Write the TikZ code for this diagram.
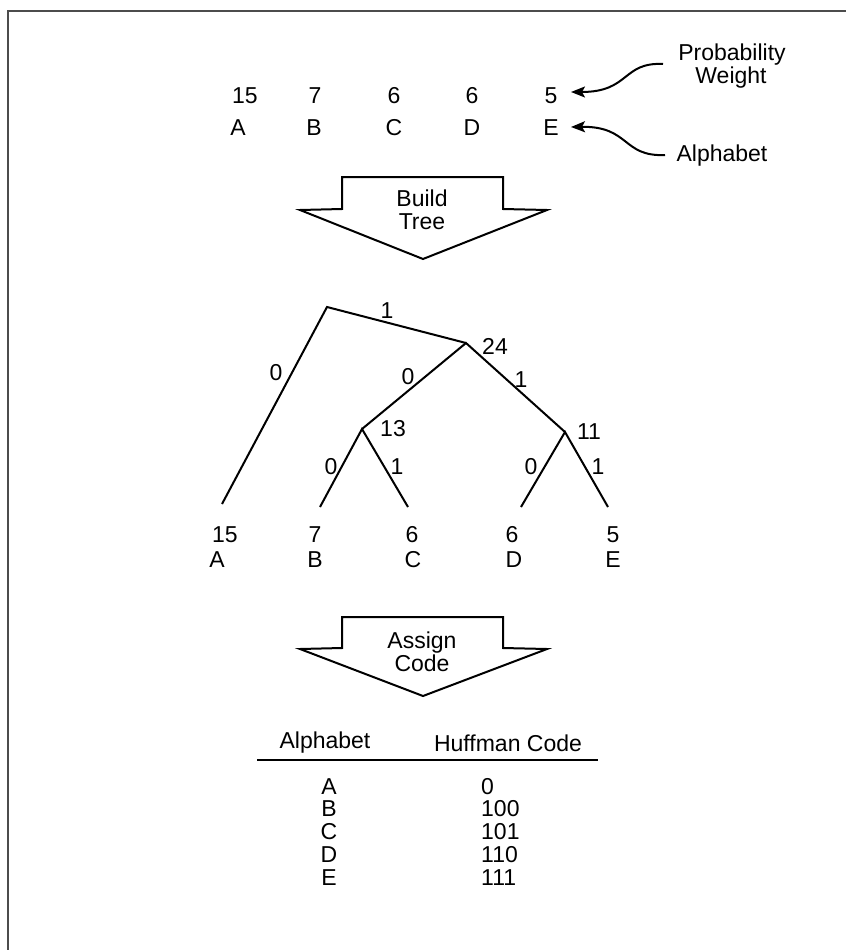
\documentclass[tikz,border=0pt]{standalone}
\usepackage{fontspec}
\setmainfont{Liberation Sans}
\usetikzlibrary{arrows.meta}
\begin{document}
\begin{tikzpicture}[x=1pt,y=-1pt,
  txt/.style={inner sep=0pt, font=\fontsize{23}{23}\selectfont},
  edge/.style={line width=2pt, black},
  blockarrow/.style={line width=2pt, black, line join=miter},
  callout/.style={line width=2pt, -{Stealth[length=14pt,width=11pt,inset=3pt]}},
  frame/.style={line width=2.5pt, black!70}]
\useasboundingbox (0,0) rectangle (846,950);
\draw[frame] (8,950) -- (8,11) -- (846,11);

% top row
\node[txt] (w1) at (245,96) {15};
\node[txt] (w2) at (315,96) {7};
\node[txt] (w3) at (394,96) {6};
\node[txt] (w4) at (472,96) {6};
\node[txt] (w5) at (551,96) {5};
\node[txt] (a1) at (238,128) {A};
\node[txt] (a2) at (314,128) {B};
\node[txt] (a3) at (394,128) {C};
\node[txt] (a4) at (472,128) {D};
\node[txt] (a5) at (551,128) {E};

\node[txt] (prob) at (732,55) {Probability};
\node[txt] (wgt) at (731,78) {Weight};
\node[txt] (alph) at (722,156) {Alphabet};
\coordinate (ps) at (663,64);
\coordinate (pt) at (571,92);
\coordinate (as) at (665,155);
\coordinate (at) at (571,127);
\draw[callout] (ps) .. controls (622,62) and (630,92) .. (pt);
\draw[callout] (as) .. controls (622,157) and (630,126) .. (at);

% build tree arrow
\draw[blockarrow] (342,209) -- (342,177) -- (503,177) -- (503,209) -- (547,210) -- (423,259) -- (300,210) -- cycle;
\node[txt] (bt) at (422,213) {\begin{tabular}{@{}c@{}}Build\\Tree\end{tabular}};

% tree
\coordinate (root) at (327,307);
\coordinate (n24) at (466,343);
\coordinate (n13) at (362,429);
\coordinate (n11) at (565,432);
\coordinate (eA) at (222,504);
\coordinate (eB) at (320,507);
\coordinate (eC) at (408,507);
\coordinate (eD) at (521,507);
\coordinate (eE) at (608,507);
\draw[edge] (eA) -- (root) -- (n24);
\draw[edge] (n13) -- (n24) -- (n11);
\draw[edge] (eB) -- (n13) -- (eC);
\draw[edge] (eD) -- (n11) -- (eE);

\node[txt] (l24) at (495,346) {24};
\node[txt] (l13) at (393,429) {13};
\node[txt] (l11) at (589,432) {11};
\node[txt] (b1) at (387,311) {1};
\node[txt] (b2) at (276,373) {0};
\node[txt] (b3) at (408,377) {0};
\node[txt] (b4) at (521,380) {1};
\node[txt] (b5) at (331,467) {0};
\node[txt] (b6) at (397,467) {1};
\node[txt] (b7) at (531,467) {0};
\node[txt] (b8) at (598,467) {1};

\node[txt] (lw1) at (225,535) {15};
\node[txt] (lw2) at (315,535) {7};
\node[txt] (lw3) at (412,535) {6};
\node[txt] (lw4) at (512,535) {6};
\node[txt] (lw5) at (613,535) {5};
\node[txt] (la1) at (217,560) {A};
\node[txt] (la2) at (315,560) {B};
\node[txt] (la3) at (413,560) {C};
\node[txt] (la4) at (514,560) {D};
\node[txt] (la5) at (613,560) {E};

% assign code arrow
\draw[blockarrow] (342,648) -- (342,617) -- (503,617) -- (503,648) -- (547,649) -- (423,696) -- (300,649) -- cycle;
\node[txt] (ac) at (422,655) {\begin{tabular}{@{}c@{}}Assign\\Code\end{tabular}};

% table
\node[txt] (th1) at (325,743) {Alphabet};
\node[txt] (th2) at (508,743) {Huffman Code};
\coordinate (hl) at (257,760);
\coordinate (hr) at (598,760);
\draw[line width=1.6pt] (hl) -- (hr);
\node[txt] (r1) at (329,787) {A};
\node[txt] (r2) at (329,809) {B};
\node[txt] (r3) at (329,832) {C};
\node[txt] (r4) at (329,855) {D};
\node[txt] (r5) at (329,878) {E};
\node[txt,anchor=west] (c1) at (481,787) {0};
\node[txt,anchor=west] (c2) at (481,809) {100};
\node[txt,anchor=west] (c3) at (481,832) {101};
\node[txt,anchor=west] (c4) at (481,855) {110};
\node[txt,anchor=west] (c5) at (481,878) {111};
\end{tikzpicture}
\end{document}
